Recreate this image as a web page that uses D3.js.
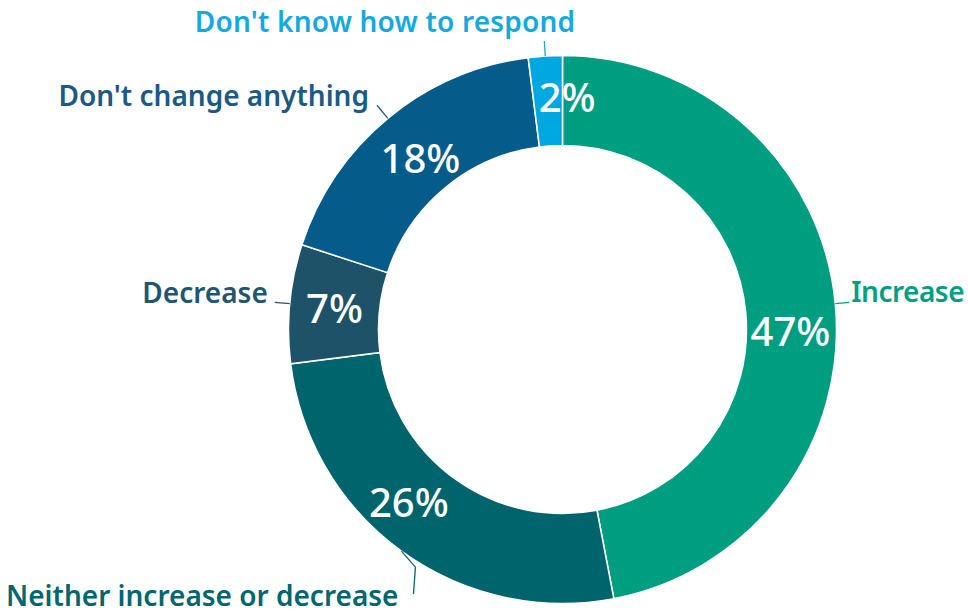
<!DOCTYPE html>
<html>
<head>
<meta charset="utf-8">
<script src="https://cdn.jsdelivr.net/npm/d3@7/dist/d3.min.js"></script>
<style>
  html, body { margin: 0; padding: 0; background: #ffffff; }
  svg { display: block; }
  text { font-family: "Noto Sans", "Open Sans", sans-serif; }
</style>
</head>
<body>
<svg id="chart" width="968" height="613"></svg>
<script>
// Survey responses, clockwise from 12 o'clock
const categories = ["Increase", "Neither increase or decrease", "Decrease", "Don't change anything", "Don't know how to respond"];
const shares = [47, 26, 7, 18, 2];
const palette = ["#009e81", "#00646c", "#1e5269", "#055c8a", "#00a8e1"];
const labelColors = ["#00a07f", "#00666f", "#1f5670", "#1b5a84", "#14a9e0"];

const svg = d3.select("#chart");
const cx = 562.5, cy = 329.5;
const outerR = 274, innerR = 184;

const data = categories.map((c, i) => ({ name: c, value: shares[i], color: palette[i], labelColor: labelColors[i] }));

const pie = d3.pie().value(d => d.value).sort(null).startAngle(0).endAngle(2 * Math.PI);
const arcs = pie(data);
const arc = d3.arc().innerRadius(innerR).outerRadius(outerR);
const labelArc = d3.arc().innerRadius((innerR + outerR) / 2).outerRadius((innerR + outerR) / 2);

const g = svg.append("g").attr("transform", `translate(${cx},${cy})`);

g.selectAll("path.slice")
  .data(arcs)
  .join("path")
  .attr("class", "slice")
  .attr("d", arc)
  .attr("fill", d => d.data.color)
  .attr("stroke", "#ffffff")
  .attr("stroke-width", 1.5);

// Percentage labels sit at the slice centroid, nudged where the ring is crowded
const pctNudge = {
  "Increase": [0, 23],
  "Neither increase or decrease": [-19, -13],
  "Decrease": [0, 0],
  "Don't change anything": [4, 4],
  "Don't know how to respond": [19, -4]
};
g.selectAll("text.pct")
  .data(arcs)
  .join("text")
  .attr("class", "pct")
  .attr("transform", d => {
    const [x, y] = labelArc.centroid(d);
    const [dx, dy] = pctNudge[d.data.name];
    return `translate(${x + dx},${y + dy})`;
  })
  .attr("text-anchor", "middle")
  .attr("dominant-baseline", "central")
  .attr("fill", "#ffffff")
  .attr("font-size", 40)
  .attr("font-weight", 500)
  .text(d => d.data.value + "%");

// Callout geometry
const mid = d => (d.startAngle + d.endAngle) / 2;
const polar = (r, a) => [r * Math.sin(a), -r * Math.cos(a)];

const callouts = {
  "Increase":                     { ext: 14, bend: null, anchor: "start",  tx: 2,   ty: 0, ls: -0.5 },
  "Neither increase or decrease": { ext: 0,  bend: [[14, 16], [12, 43]], anchor: "end", tx: -15, ty: 12, ls: 0 },
  "Decrease":                     { ext: 15, bend: null, anchor: "end",    tx: -7,  ty: 1, ls: 0 },
  "Don't change anything":        { ext: 17, bend: null, anchor: "end",    tx: -8,  ty: 1, ls: 0 },
  "Don't know how to respond":    { ext: 15, bend: null, anchor: "end",    tx: 31,  ty: -9, ls: 0.2 }
};

arcs.forEach(d => {
  const c = callouts[d.data.name];
  const a = mid(d);
  const p0 = polar(outerR, a);
  let pts;
  if (c.bend) {
    pts = [p0].concat(c.bend.map(([bx, by]) => [p0[0] + bx, p0[1] + by]));
  } else {
    pts = [p0, polar(outerR + c.ext, a)];
  }
  const end = pts[pts.length - 1];
  g.append("path")
    .attr("d", d3.line()(pts))
    .attr("fill", "none")
    .attr("stroke", d.data.labelColor)
    .attr("stroke-width", 1.3);
  g.append("text")
    .attr("x", end[0] + c.tx)
    .attr("y", end[1] + c.ty)
    .attr("text-anchor", c.anchor)
    .attr("fill", d.data.labelColor)
    .attr("font-size", 28)
    .attr("font-weight", 600)
    .attr("letter-spacing", c.ls)
    .text(d.data.name);
});
</script>
</body>
</html>
